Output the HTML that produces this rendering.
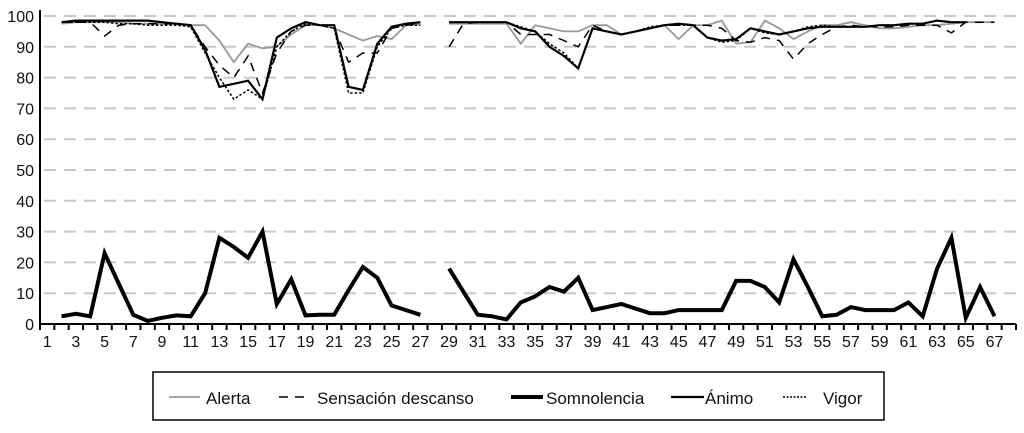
<!DOCTYPE html>
<html><head><meta charset="utf-8"><style>
body{margin:0;background:#fff;}
svg{display:block;font-family:"Liberation Sans",Arial,sans-serif;}
</style></head><body>
<svg id="chart" width="1024" height="433"></svg>
<script>
const categories = Array.from({length:68},(_,i)=>i+1);
const yTicks = [0,10,20,30,40,50,60,70,80,90,100];
const N = null;
const alerta = [N,97.5,98,98,98,98,97.5,97.5,97.5,97.5,97,97,92,85,91,89.5,90,94,97,97,96,94,92,93.5,92.5,97,97.5,N,
97.5,97.5,97.5,97.5,97.5,91,97,96,95,95,97,97,94,95,96,97,92.5,97,97,98.5,91,91.5,98.5,96,92.5,95,97,97,98,97,96,96,96.5,97,97,97.5,98,98,98];
const sensacion = [N,98,98,98,93.5,97,97.5,97.5,97.5,97.5,97,90,84,80,87,75,88,95,97,97,96,85,88,88,96,97,97.5,N,
90,97.5,98,98,98,94,94,94,92,90,97,95,94,95,96,97,97,97,97,96,92,91.5,93,92,86,91,94,96.5,97,96.5,96.5,96.5,97,97,97,94.5,98,98,98];
const somnolencia = [N,2.5,3.3,2.5,23,13,3,1,2,2.8,2.5,10,28,25,21.5,30,6.5,14.5,2.8,3,3,11,18.5,15,6,4.5,3,
N,18,10.5,3,2.5,1.5,7,9,12,10.5,15,4.5,5.5,6.5,5,3.5,3.5,4.5,4.5,4.5,4.5,14,14,12,7,21,12,2.5,3,5.5,4.5,4.5,4.5,7,2.5,18,28,2,12,2.5];
const animo = [N,98,98.5,98.5,98.5,98.5,98.5,98.5,98,97.5,97,89,77,78,79,73,93,96,98,97,97,77,76,91,96.5,97.5,98,N,
98,98,98,98,98,96,95,90,87,83,96,95,94,95,96,97,97.5,97,93,92,92.5,96,95,94,95,96,96.5,96.5,96.5,96.5,97,97,97.5,97.5,98.5,98,98];
const vigor = [N,98,98,98,98,97.5,97.5,97,97,97,96.5,88,80,73,76,73,90,95,97.5,97,96,75,75,90,96,97,97,N,
98,98,98,98,98,96.5,95,91,88,83,96,95,94,95,96.5,97,97,97,93,91.5,92,96,94.5,94,95,96.5,97,96.5,96.5,96.5,97,97,97.5,97.5,98.5,98,98];

const svg = document.getElementById('chart');
const NS = 'http://www.w3.org/2000/svg';
const x0=40,x1=1016,yTop=16,yBot=324;
const w=(x1-x0)/categories.length;
const xs = i => x0+(i+0.5)*w;
const ys = v => yBot-(v/100)*(yBot-yTop);
function mk(tag,attrs,parent){const e=document.createElementNS(NS,tag);for(const k in attrs)e.setAttribute(k,attrs[k]);(parent||svg).appendChild(e);return e;}

yTicks.forEach(t=>{
  if(t>0){const g=mk('line',{x1:x0+4,x2:x1,y1:ys(t),y2:ys(t),stroke:'#c8c8c8','stroke-width':2,'stroke-dasharray':'12,8'});
  
  }
  const l=mk('text',{x:34,y:ys(t)+6,'text-anchor':'end','font-size':16,fill:'#111'});l.textContent=t;
  
  
});
const ax=mk('line',{x1:x0,x2:x0,y1:yTop-6,y2:yBot,stroke:'#000','stroke-width':2});


const xa=mk('line',{x1:x0,x2:x1,y1:yBot,y2:yBot,stroke:'#000','stroke-width':2});


for(let i=0;i<=categories.length;i++){
  const tk=mk('line',{x1:x0+i*w,x2:x0+i*w,y1:yBot,y2:yBot+6,stroke:'#000','stroke-width':2});
  
  
}
categories.forEach((c,i)=>{ if(c%2===1){
  const l=mk('text',{x:xs(i),y:yBot+23,'text-anchor':'middle','font-size':16,fill:'#111'});l.textContent=c;
  
  
}});
function series(data,style,name){
  let d='',pen=false;
  data.forEach((v,i)=>{ if(v===null){pen=false;return;} d+=(pen?'L':'M')+xs(i).toFixed(1)+','+ys(v).toFixed(1)+' '; pen=true;});
  const p=mk('path',Object.assign({d:d,fill:'none','stroke-linejoin':'miter'},style));
  
  
}
series(alerta,{stroke:'#999','stroke-width':1.8},'series-alerta');
series(sensacion,{stroke:'#000','stroke-width':1.5,'stroke-dasharray':'9,7'},'series-sensacion-descanso');
series(vigor,{stroke:'#000','stroke-width':1.5,'stroke-dasharray':'2.5,2'},'series-vigor');
series(animo,{stroke:'#000','stroke-width':2.2},'series-animo');
series(somnolencia,{stroke:'#000','stroke-width':4},'series-somnolencia');

// legend
const lg=mk('g',{});


mk('rect',{x:153,y:372,width:731,height:48,fill:'#fff',stroke:'#000','stroke-width':1.5},lg);
const items=[['Alerta',{stroke:'#999','stroke-width':1.8},169,200,206,'legend-alerta'],
['Sensación descanso',{stroke:'#000','stroke-width':1.5,'stroke-dasharray':'9,7'},279,306,317,'legend-sensacion-descanso'],
['Somnolencia',{stroke:'#000','stroke-width':4},511,543,546,'legend-somnolencia'],
['Ánimo',{stroke:'#000','stroke-width':2.2},671,704,705,'legend-animo'],
['Vigor',{stroke:'#000','stroke-width':1.5,'stroke-dasharray':'2,1.5'},783,806,823,'legend-vigor']];
items.forEach(it=>{
  const g=mk('g',{},lg);
  
  
  mk('line',Object.assign({x1:it[2],x2:it[3],y1:397,y2:397},it[1]),g);
  const t=mk('text',{x:it[4],y:404,'font-size':17,fill:'#111'},g);t.textContent=it[0];
});
</script>
</body></html>
